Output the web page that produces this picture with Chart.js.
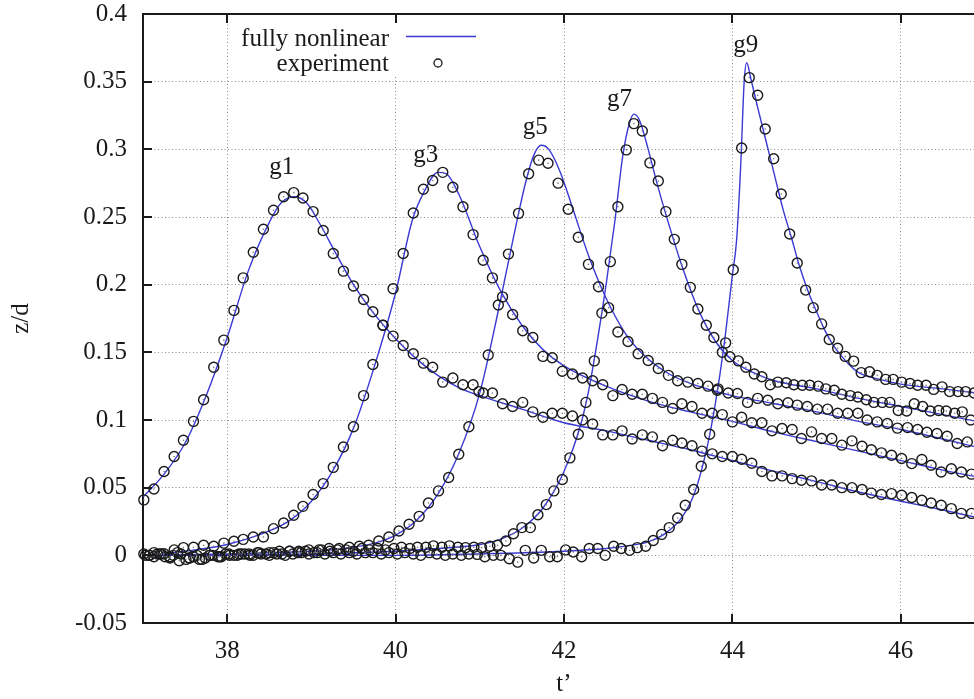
<!DOCTYPE html>
<html>
<head>
<meta charset="utf-8">
<script src="https://cdn.jsdelivr.net/npm/chart.js@4.4.1/dist/chart.umd.min.js"></script>
<style>
  html, body { margin: 0; padding: 0; background: #fff; overflow: hidden; }
  /* the plot runs a little past the right edge of the window, as in the original crop */
  #wrap { position: absolute; left: 0; top: 0; width: 1000px; height: 699px; }
</style>
</head>
<body>
<div id="wrap"><canvas id="waveChart"></canvas></div>
<script>
// experiment sample times (g1 and g3 share one clock)
const tA = [37.01,37.13,37.25,37.37,37.48,37.60,37.72,37.84,37.96,38.08,
  38.19,38.31,38.43,38.55,38.67,38.79,38.90,39.02,39.14,39.26,
  39.38,39.50,39.62,39.73,39.85,39.97,40.09,40.21,40.33,40.44,
  40.56,40.68,40.80,40.92,41.04,41.15,41.27,41.39,41.51,41.63,
  41.75,41.86,41.98,42.10,42.22,42.34,42.46,42.58,42.69,42.81,
  42.93,43.05,43.17,43.29,43.40,43.52,43.64,43.76,43.88,44.00,
  44.11,44.23,44.35,44.47,44.59,44.71,44.82,44.94,45.06,45.18,
  45.30,45.42,45.54,45.65,45.77,45.89,46.01,46.13,46.25,46.36,
  46.48,46.60,46.72,46.84];
const g1Exp = [0.041,0.049,0.062,0.073,0.085,0.099,0.115,0.139,0.159,0.181,
  0.205,0.224,0.241,0.255,0.265,0.268,0.264,0.254,0.240,0.223,
  0.210,0.199,0.189,0.180,0.170,0.162,0.155,0.149,0.142,0.139,
  0.128,0.131,0.126,0.126,0.120,0.120,0.112,0.110,0.113,0.106,
  0.102,0.105,0.105,0.103,0.100,0.097,0.089,0.089,0.092,0.086,
  0.089,0.0875,0.081,0.085,0.083,0.081,0.077,0.075,0.073,0.073,
  0.071,0.068,0.062,0.0587,0.0587,0.0567,0.0555,0.055,0.052,0.052,
  0.050,0.050,0.0486,0.046,0.045,0.0456,0.0444,0.0427,0.0407,0.0387,
  0.037,0.0345,0.031,0.031];
const g3Exp = [0.001,0.002,0.0012,0.004,0.0057,0.006,0.0074,0.0067,0.009,0.0104,
  0.0118,0.0136,0.0136,0.0197,0.0239,0.0296,0.0362,0.045,0.053,0.065,
  0.080,0.095,0.118,0.141,0.170,0.197,0.223,0.253,0.2705,0.277,
  0.283,0.272,0.2576,0.237,0.218,0.205,0.191,0.178,0.166,0.161,
  0.147,0.146,0.136,0.134,0.131,0.129,0.126,0.118,0.1225,0.119,
  0.119,0.116,0.113,0.1085,0.112,0.110,0.105,0.105,0.104,0.0986,
  0.102,0.098,0.098,0.092,0.0937,0.093,0.0863,0.0912,0.0863,0.0863,
  0.0814,0.0846,0.0806,0.078,0.0757,0.074,0.0715,0.0678,0.0708,0.0666,
  0.0616,0.064,0.0616,0.060];

const tG5 = [37.08,37.20,37.32,37.43,37.55,37.67,37.79,37.91,38.03,38.14,
  38.26,38.38,38.50,38.62,38.74,38.85,38.97,39.09,39.21,39.33,
  39.45,39.57,39.68,39.80,39.92,40.04,40.16,40.28,40.39,40.51,
  40.63,40.75,40.87,40.99,41.10,41.22,41.34,41.46,41.58,41.70,
  41.81,41.93,42.05,42.17,42.29,42.41,42.53,42.64,42.76,42.88,
  43.00,43.12,43.24,43.35,43.47,43.59,43.71,43.83,43.95,44.06,
  44.18,44.30,44.42,44.54,44.66,44.77,44.89,45.01,45.13,45.25,
  45.37,45.49,45.60,45.72,45.84,45.96,46.08,46.20,46.31,46.43,
  46.55,46.67,46.79];
const g5Exp = [0.000,0.001,-0.001,-0.004,-0.002,-0.003,0.000,-0.001,0.000,0.001,
  0.001,0.002,0.002,0.003,0.003,0.003,0.004,0.004,0.005,0.005,
  0.006,0.0067,0.0074,0.0106,0.0136,0.018,0.023,0.0288,0.0387,0.0476,
  0.0575,0.0747,0.095,0.121,0.148,0.185,0.2226,0.2527,0.282,0.292,
  0.2897,0.275,0.2557,0.235,0.215,0.1985,0.183,0.165,0.158,0.149,
  0.144,0.138,0.133,0.129,0.128,0.127,0.125,0.123,0.120,0.1196,
  0.113,0.116,0.1146,0.112,0.1127,0.111,0.110,0.108,0.108,0.105,
  0.105,0.105,0.100,0.0986,0.0974,0.094,0.0944,0.093,0.091,0.090,
  0.088,0.0826,0.0838];

const tG7 = [37.03,37.13,37.22,37.32,37.41,37.51,37.60,37.70,37.79,37.89,
  37.98,38.08,38.17,38.27,38.36,38.46,38.55,38.65,38.74,38.84,
  38.93,39.03,39.12,39.22,39.31,39.41,39.50,39.60,39.69,39.79,
  39.88,39.98,40.07,40.17,40.26,40.36,40.45,40.55,40.64,40.74,
  40.83,40.93,41.02,41.12,41.21,41.31,41.40,41.50,41.60,41.69,
  41.79,41.88,41.98,42.07,42.17,42.26,42.36,42.45,42.55,42.64,
  42.74,42.83,42.93,43.02,43.12,43.21,43.31,43.40,43.50,43.59,
  43.69,43.78,43.88,43.97,44.07,44.16,44.26,44.35,44.45,44.54,
  44.64,44.73,44.83,44.92,45.02,45.11,45.21,45.30,45.40,45.49,
  45.59,45.68,45.78,45.87,45.97,46.07,46.16,46.26,46.35,46.45,
  46.54,46.64,46.73,46.83];
const g7Exp = [0.000,-0.001,0.001,-0.002,0.002,-0.003,-0.001,-0.003,0.000,-0.001,
  0.001,0.000,0.001,0.000,0.002,0.001,0.002,0.001,0.003,0.002,
  0.003,0.002,0.004,0.003,0.004,0.004,0.003,0.005,0.004,0.005,
  0.004,0.005,0.006,0.005,0.006,0.006,0.007,0.006,0.007,0.006,
  0.0057,0.006,0.0057,0.0067,0.0074,0.0106,0.016,0.0205,0.0205,0.030,
  0.0375,0.0476,0.056,0.072,0.0895,0.113,0.1437,0.179,0.217,0.2576,
  0.2996,0.319,0.3136,0.290,0.2766,0.254,0.2335,0.215,0.198,0.182,
  0.170,0.161,0.150,0.1467,0.1437,0.139,0.134,0.132,0.126,0.128,
  0.1275,0.126,0.1257,0.1257,0.125,0.123,0.122,0.119,0.118,0.117,
  0.115,0.113,0.113,0.113,0.107,0.1067,0.112,0.110,0.1067,0.107,
  0.1067,0.105,0.106,0.100];

const tG9 = [37.07,37.17,37.26,37.36,37.45,37.55,37.64,37.74,37.83,37.93,
  38.02,38.12,38.21,38.31,38.40,38.50,38.59,38.69,38.78,38.88,
  38.97,39.07,39.16,39.26,39.35,39.45,39.54,39.64,39.73,39.83,
  39.92,40.02,40.11,40.21,40.30,40.40,40.49,40.59,40.68,40.78,
  40.87,40.97,41.06,41.16,41.25,41.35,41.45,41.54,41.64,41.73,
  41.83,41.92,42.02,42.11,42.21,42.30,42.40,42.49,42.59,42.68,
  42.78,42.87,42.97,43.06,43.16,43.25,43.35,43.44,43.54,43.63,
  43.73,43.82,43.92,44.01,44.11,44.20,44.30,44.39,44.49,44.58,
  44.68,44.77,44.87,44.96,45.06,45.15,45.25,45.34,45.44,45.53,
  45.63,45.72,45.82,45.91,46.01,46.11,46.20,46.30,46.39,46.49,
  46.58,46.68,46.77,46.87];
const g9Exp = [0.000,0.001,-0.001,0.000,0.001,-0.002,0.000,-0.002,0.000,-0.001,
  0.001,0.000,0.001,0.000,0.001,0.000,0.001,0.000,0.001,0.002,
  0.001,0.002,0.001,0.002,0.001,0.002,0.001,0.002,0.002,0.001,
  0.002,0.001,0.002,0.001,0.000,0.002,0.001,0.000,0.001,0.000,
  0.001,0.0007,-0.001,0.000,0.000,-0.0025,-0.005,0.0037,-0.002,0.0037,
  -0.001,-0.001,0.004,0.0025,-0.001,0.005,0.005,0.000,0.0067,0.005,
  0.0037,0.0057,0.0067,0.011,0.0155,0.0205,0.0276,0.037,0.0486,0.0658,
  0.0895,0.122,0.157,0.211,0.301,0.353,0.340,0.315,0.293,0.267,
  0.2374,0.216,0.196,0.183,0.171,0.1595,0.153,0.147,0.1435,0.135,
  0.1356,0.133,0.130,0.130,0.128,0.127,0.1257,0.1257,0.1226,0.1245,
  0.121,0.121,0.121,0.120];

// fully nonlinear model curves
const g1LineT = [37.0,37.25,37.5,37.75,38.0,38.25,38.5,38.65,38.8,38.95,39.1,39.3,39.5,39.75,40.0,40.25,40.5,40.75,41.0,41.5,42.0,42.5,43.0,43.5,44.0,44.5,45.0,45.5,46.0,46.5,46.9];
const g1LineV = [0.043,0.060,0.083,0.118,0.161,0.210,0.246,0.261,0.265,0.260,0.245,0.222,0.200,0.178,0.160,0.145,0.133,0.124,0.118,0.108,0.098,0.092,0.085,0.078,0.070,0.062,0.0545,0.0468,0.040,0.0335,0.028];
const g3LineT = [37.0,37.5,38.0,38.5,38.75,39.0,39.25,39.5,39.75,40.0,40.2,40.35,40.5,40.6,40.75,41.0,41.25,41.5,41.75,42.0,42.5,43.0,43.5,44.0,44.5,45.0,45.5,46.0,46.5,46.9];
const g3LineV = [0.000,0.003,0.008,0.018,0.026,0.040,0.062,0.094,0.140,0.194,0.248,0.270,0.283,0.282,0.267,0.228,0.195,0.170,0.152,0.140,0.125,0.114,0.106,0.099,0.091,0.084,0.077,0.070,0.063,0.058];
const g5LineT = [37.0,38.0,38.5,39.0,39.5,39.75,40.0,40.25,40.5,40.75,41.0,41.2,41.4,41.55,41.65,41.73,41.82,41.95,42.1,42.3,42.5,42.75,43.0,43.25,43.5,43.75,44.0,44.5,45.0,45.5,46.0,46.5,46.9];
const g5LineV = [0.000,0.001,0.002,0.003,0.006,0.009,0.015,0.026,0.045,0.075,0.120,0.175,0.235,0.277,0.297,0.303,0.300,0.284,0.257,0.220,0.190,0.162,0.145,0.134,0.127,0.122,0.118,0.112,0.106,0.099,0.093,0.086,0.080];
const g7LineT = [37.0,39.0,40.0,40.5,41.0,41.25,41.5,41.75,42.0,42.2,42.3,42.4,42.5,42.6,42.7,42.78,42.83,42.9,43.0,43.1,43.2,43.4,43.6,43.8,44.0,44.25,44.5,45.0,45.5,46.0,46.5,46.9];
const g7LineV = [0.000,0.001,0.003,0.005,0.008,0.012,0.020,0.035,0.062,0.097,0.124,0.160,0.200,0.245,0.296,0.320,0.326,0.321,0.300,0.276,0.254,0.214,0.181,0.158,0.144,0.135,0.129,0.123,0.116,0.110,0.104,0.099];
const g9LineT = [37.0,40.0,41.0,42.0,42.5,42.75,43.0,43.2,43.4,43.55,43.7,43.8,43.9,44.0,44.05,44.1,44.14,44.17,44.22,44.3,44.4,44.5,44.6,44.7,44.8,44.9,45.0,45.1,45.2,45.3,45.4,45.5,45.75,46.0,46.5,46.9];
const g9LineV = [0.000,0.000,0.001,0.003,0.005,0.007,0.010,0.016,0.028,0.046,0.080,0.113,0.155,0.207,0.233,0.290,0.350,0.364,0.352,0.331,0.306,0.281,0.256,0.235,0.213,0.195,0.180,0.166,0.155,0.147,0.140,0.135,0.130,0.1265,0.123,0.120];

const gaugeNames = ['g1', 'g3', 'g5', 'g7', 'g9'];
const legendNames = ['fully nonlinear', 'experiment'];
const xTicks = [38, 40, 42, 44, 46];
const yTicks = [-0.05, 0, 0.05, 0.1, 0.15, 0.2, 0.25, 0.3, 0.35, 0.4];

const BLUE = '#3a3ad4';
const INK = '#1a1a1a';
const FONT = 'Liberation Serif';

const toXY = (ts, vs) => ts.map((t, i) => ({ x: t, y: vs[i] }));

const expSeries = [[tA, g1Exp], [tA, g3Exp], [tG5, g5Exp], [tG7, g7Exp], [tG9, g9Exp]];
const modelSeries = [[g1LineT, g1LineV], [g3LineT, g3LineV], [g5LineT, g5LineV], [g7LineT, g7LineV], [g9LineT, g9LineV]];

const datasets = [];
expSeries.forEach(([t, v], i) => {
  datasets.push({
    label: 'experiment ' + gaugeNames[i],
    data: toXY(t, v),
    showLine: false,
    pointStyle: 'circle',
    pointRadius: 5,
    pointBorderWidth: 1.4,
    pointBorderColor: INK,
    pointBackgroundColor: 'rgba(0,0,0,0)',
    clip: false,
    order: 1
  });
});
modelSeries.forEach(([t, v], i) => {
  datasets.push({
    label: 'fully nonlinear ' + gaugeNames[i],
    data: toXY(t, v),
    borderColor: BLUE,
    borderWidth: 1.4,
    pointRadius: 0,
    fill: false,
    cubicInterpolationMode: 'monotone',
    order: 2
  });
});

// where the gauge names sit (data coords of left end / baseline)
const gaugeLabelPos = [[38.50, 0.282], [40.21, 0.291], [41.51, 0.311], [42.51, 0.332], [44.01, 0.372]];

const gnuplotLook = {
  id: 'gnuplotLook',
  afterDatasetsDraw(chart) {
    const ctx = chart.ctx;
    ctx.save();
    ctx.fillStyle = '#777';
    chart.data.datasets.forEach((ds, i) => {
      if (ds.showLine !== false) return;
      chart.getDatasetMeta(i).data.forEach(pt => {
        ctx.beginPath();
        ctx.arc(pt.x, pt.y, 0.8, 0, Math.PI * 2);
        ctx.fill();
      });
    });
    ctx.restore();
  },
  afterDraw(chart) {
    const ctx = chart.ctx;
    const { left, right, top, bottom } = chart.chartArea;
    const xs = chart.scales.x, ys = chart.scales.y;
    ctx.save();
    // top border + inward ticks
    ctx.strokeStyle = INK;
    ctx.lineWidth = 2;
    ctx.beginPath();
    ctx.moveTo(left - 1, top);
    ctx.lineTo(right, top);
    ctx.stroke();
    xTicks.forEach(v => {
      const px = Math.round(xs.getPixelForValue(v));
      ctx.beginPath();
      ctx.moveTo(px, bottom); ctx.lineTo(px, bottom - 9);
      ctx.moveTo(px, top); ctx.lineTo(px, top + 9);
      ctx.stroke();
    });
    yTicks.forEach(v => {
      const py = Math.round(ys.getPixelForValue(v));
      ctx.beginPath();
      ctx.moveTo(left, py); ctx.lineTo(left + 9, py);
      ctx.stroke();
    });

    // gauge names
    ctx.fillStyle = INK;
    ctx.font = '25px "' + FONT + '"';
    ctx.textAlign = 'left';
    ctx.textBaseline = 'alphabetic';
    gaugeNames.forEach((name, i) => {
      const [t, v] = gaugeLabelPos[i];
      ctx.fillText(name, xs.getPixelForValue(t), ys.getPixelForValue(v));
    });

    // key
    ctx.fillStyle = '#fff';
    ctx.fillRect(232, 24, 254, 52);
    ctx.fillStyle = INK;
    ctx.textAlign = 'right';
    ctx.fillText(legendNames[0], 389, 46);
    ctx.fillText(legendNames[1], 389, 71);
    ctx.strokeStyle = BLUE;
    ctx.lineWidth = 1.5;
    ctx.beginPath();
    ctx.moveTo(406, 36.5); ctx.lineTo(476, 36.5);
    ctx.stroke();
    ctx.strokeStyle = INK;
    ctx.lineWidth = 1.3;
    ctx.beginPath();
    ctx.arc(438, 63, 4, 0, Math.PI * 2);
    ctx.stroke();
    ctx.restore();
  }
};

new Chart(document.getElementById('waveChart'), {
  type: 'line',
  data: { datasets: datasets },
  options: {
    responsive: true,
    maintainAspectRatio: false,
    animation: false,
    devicePixelRatio: 1,
    layout: { padding: { top: 14, right: 15, bottom: 0, left: 0 } },
    plugins: { legend: { display: false }, tooltip: { enabled: false } },
    scales: {
      x: {
        type: 'linear',
        min: 37,
        max: 47,
        afterBuildTicks: scale => { scale.ticks = xTicks.map(v => ({ value: v })); },
        afterFit: scale => { scale.height = 76; },
        grid: { color: '#8a8a8a', lineWidth: 1, drawTicks: false },
        border: { display: true, color: INK, width: 2, dash: [1, 2.5] },
        ticks: {
          color: INK,
          padding: 16,
          maxRotation: 0,
          font: { family: FONT, size: 25, lineHeight: 1 },
          callback: v => String(v)
        },
        title: {
          display: true,
          text: 't\u2019',
          color: INK,
          font: { family: FONT, size: 25, lineHeight: 1 },
          padding: { top: 0, bottom: 2 }
        }
      },
      y: {
        type: 'linear',
        min: -0.05,
        max: 0.4,
        afterBuildTicks: scale => { scale.ticks = yTicks.map(v => ({ value: v })); },
        afterFit: scale => { scale.width = 143; },
        // invisible tick marks set the label gap without padding the top of the plot
        grid: { color: '#8a8a8a', lineWidth: 1, drawTicks: true, tickLength: 16, tickColor: 'rgba(0,0,0,0)' },
        border: { display: true, color: INK, width: 2, dash: [1, 2.5] },
        ticks: {
          color: INK,
          padding: 0,
          font: { family: FONT, size: 25, lineHeight: 1 },
          callback: v => String(+v.toFixed(2))
        },
        title: {
          display: true,
          text: 'z/d',
          color: INK,
          font: { family: FONT, size: 25, lineHeight: 1 },
          padding: { top: 9, bottom: 0 }
        }
      }
    }
  },
  plugins: [gnuplotLook]
});
</script>
</body>
</html>
